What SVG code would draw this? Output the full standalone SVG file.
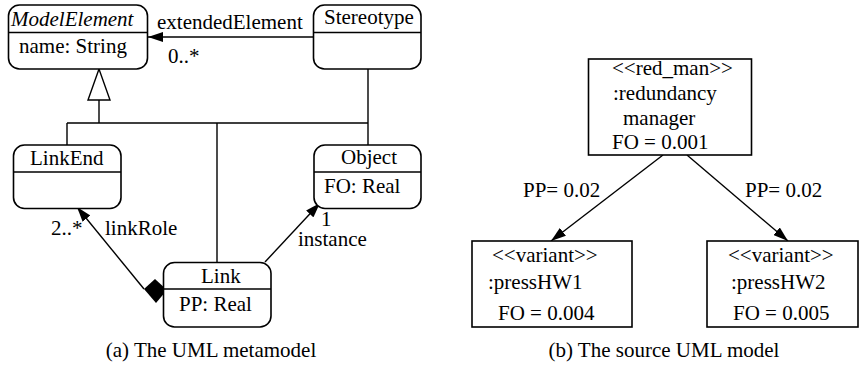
<svg xmlns="http://www.w3.org/2000/svg" width="860" height="376" viewBox="0 0 860 376">
<style>
text{font-family:"Liberation Serif","Times New Roman",serif;font-size:21px;fill:#000}
.it{font-style:italic}
.box{fill:#fff;stroke:#000;stroke-width:1.6}
.div{stroke:#000;stroke-width:1.4;fill:none}
.ln{stroke:#000;stroke-width:1.4;fill:none}
</style>
<defs>
<marker id="arr" markerUnits="userSpaceOnUse" markerWidth="15" markerHeight="10" refX="15" refY="5" orient="auto">
<path d="M0,0 L15,5 L0,10 z" fill="#000"/>
</marker>
</defs>
<rect width="860" height="376" fill="#fff"/>

<g id="connectors">
<polygon points="99,69 88,100 110,100" fill="#fff" stroke="#000" stroke-width="1.4"/>
<path class="ln" d="M99,100 V123 M67,123 H368 M67,123 V145 M217,123 V262 M368,69 V145"/>
<line class="ln" x1="313" y1="37" x2="148" y2="37" marker-end="url(#arr)"/>
<line class="ln" x1="144" y1="289" x2="77" y2="207" marker-end="url(#arr)"/>
<polygon points="144,289 155,279 167,290 156,303" fill="#000"/>
<line class="ln" x1="265" y1="262" x2="320" y2="203" marker-end="url(#arr)"/>
<line class="ln" x1="663" y1="155" x2="551" y2="241" marker-end="url(#arr)"/>
<line class="ln" x1="687" y1="155" x2="788" y2="241" marker-end="url(#arr)"/>
</g>

<g id="ModelElement">
<rect class="box" x="8.5" y="5" width="139" height="64" rx="11"/>
<line class="div" x1="8.5" y1="32.5" x2="147.5" y2="32.5"/>
<text class="it" x="11" y="26">ModelElement</text>
<text x="19" y="53">name: String</text>
</g>

<g id="Stereotype">
<rect class="box" x="313.5" y="5" width="107.5" height="64" rx="11"/>
<line class="div" x1="313.5" y1="32.5" x2="421" y2="32.5"/>
<text x="324" y="24">Stereotype</text>
</g>

<g id="LinkEnd">
<rect class="box" x="13.5" y="145" width="107.5" height="63.5" rx="11"/>
<line class="div" x1="13.5" y1="172" x2="121" y2="172"/>
<text x="30" y="165">LinkEnd</text>
</g>

<g id="Object">
<rect class="box" x="314" y="145" width="107" height="63.5" rx="11"/>
<line class="div" x1="314" y1="172" x2="421" y2="172"/>
<text x="341" y="164">Object</text>
<text x="324" y="193">FO: Real</text>
</g>

<g id="Link">
<rect class="box" x="163.5" y="262.5" width="107.5" height="64.5" rx="11"/>
<line class="div" x1="163.5" y1="289" x2="271" y2="289"/>
<text x="201" y="283">Link</text>
<text x="179" y="311">PP: Real</text>
</g>

<g id="labels-a">
<text x="157" y="29">extendedElement</text>
<text x="168" y="63">0..*</text>
<text x="51" y="235">2..*</text>
<text x="105" y="235">linkRole</text>
<text x="321" y="226">1</text>
<text x="298" y="246">instance</text>
<text x="211" y="357" text-anchor="middle">(a) The UML metamodel</text>
</g>

<g id="red_man">
<rect class="box" x="588.5" y="59" width="163" height="96"/>
<text x="612" y="75">&lt;&lt;red_man&gt;&gt;</text>
<text x="613" y="100">:redundancy</text>
<text x="623" y="125">manager</text>
<text x="612" y="149">FO = 0.001</text>
</g>

<g id="pressHW1">
<rect class="box" x="472" y="241" width="160" height="86"/>
<text x="492" y="262">&lt;&lt;variant&gt;&gt;</text>
<text x="488" y="289">:pressHW1</text>
<text x="498" y="320">FO = 0.004</text>
</g>

<g id="pressHW2">
<rect class="box" x="707" y="241" width="151" height="86"/>
<text x="728" y="262">&lt;&lt;variant&gt;&gt;</text>
<text x="731" y="289">:pressHW2</text>
<text x="733" y="320">FO = 0.005</text>
</g>

<g id="labels-b">
<text x="523" y="197">PP= 0.02</text>
<text x="745" y="197">PP= 0.02</text>
<text x="664" y="357" text-anchor="middle">(b) The source UML model</text>
</g>
</svg>
